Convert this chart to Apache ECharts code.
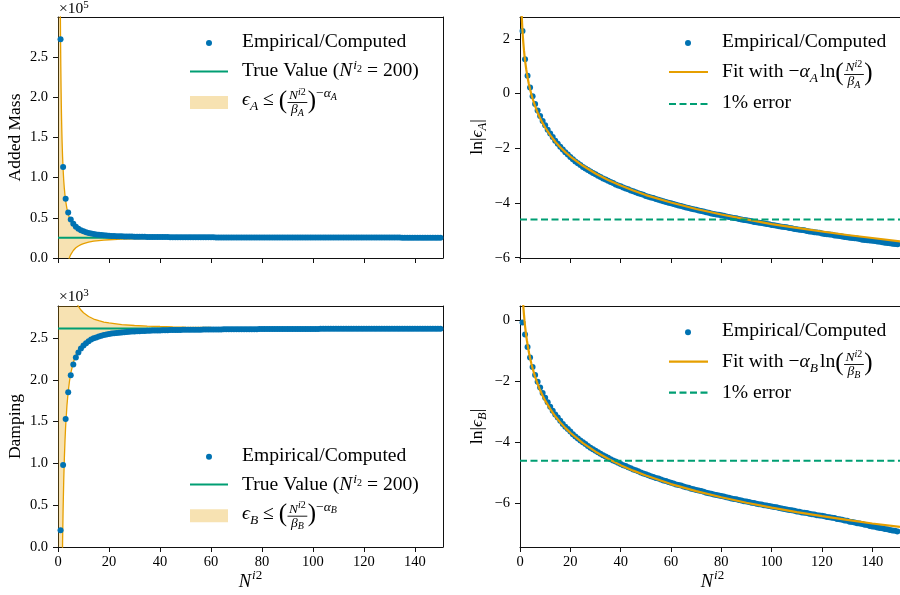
<!DOCTYPE html>
<html><head><meta charset="utf-8">
<script src="https://cdn.jsdelivr.net/npm/echarts@6.0.0/dist/echarts.min.js"></script>
<style>html,body{margin:0;padding:0;background:#fff;}#chart{width:900px;height:595px;}</style>
</head><body><div id="chart"></div>
<script>
// ---------- data ----------
const Niter = [
 1,2,3,4,5,6,7,8,9,10, 11,12,13,14,15,16,17,18,19,20, 21,22,23,24,25,26,27,28,29,30,
 31,32,33,34,35,36,37,38,39,40, 41,42,43,44,45,46,47,48,49,50, 51,52,53,54,55,56,57,58,59,60,
 61,62,63,64,65,66,67,68,69,70, 71,72,73,74,75,76,77,78,79,80, 81,82,83,84,85,86,87,88,89,90,
 91,92,93,94,95,96,97,98,99,100, 101,102,103,104,105,106,107,108,109,110, 111,112,113,114,115,116,117,118,119,120,
 121,122,123,124,125,126,127,128,129,130, 131,132,133,134,135,136,137,138,139,140, 141,142,143,144,145,146,147,148,149,150];

const addedMass = [
 272000,113000,73480,56600,48000,42440,38760,36290,34470,33090,
 31930,31050,30340,29710,29240,28830,28480,28170,27910,27680,
 27490,27310,27170,27050,26930,26830,26750,26660,26590,26520,
 26450,26390,26330,26290,26240,26200,26160,26110,26070,26050,
 26020,25980,25960,25930,25910,25880,25860,25840,25820,25800,
 25780,25760,25750,25740,25720,25700,25690,25680,25670,25660,
 25640,25630,25620,25610,25600,25590,25590,25570,25570,25560,
 25550,25550,25540,25530,25520,25520,25510,25500,25500,25490,
 25490,25480,25480,25470,25470,25460,25460,25450,25450,25450,
 25440,25440,25430,25430,25420,25420,25420,25410,25410,25410,
 25410,25400,25400,25390,25390,25390,25380,25380,25380,25380,
 25370,25370,25370,25370,25360,25360,25360,25360,25360,25350,
 25350,25350,25350,25340,25340,25340,25340,25340,25330,25330,
 25330,25330,25330,25330,25320,25320,25320,25320,25320,25320,
 25310,25310,25310,25310,25310,25310,25310,25310,25310,25310];

const damping = [
 200,981,1530,1851,2055,2183,2268,2328,2375,2409,
 2437,2462,2481,2496,2507,2519,2528,2535,2541,2547,
 2553,2557,2561,2564,2567,2570,2573,2575,2577,2579,
 2580,2582,2584,2585,2586,2588,2589,2590,2590,2591,
 2592,2593,2594,2595,2595,2596,2596,2597,2598,2598,
 2599,2599,2600,2600,2600,2600,2601,2601,2601,2602,
 2603,2603,2603,2603,2604,2604,2604,2604,2605,2605,
 2605,2605,2606,2606,2606,2606,2606,2606,2607,2607,
 2607,2607,2607,2607,2607,2607,2608,2608,2608,2608,
 2608,2608,2608,2609,2609,2609,2609,2609,2609,2609,
 2609,2609,2610,2610,2610,2610,2610,2610,2610,2610,
 2610,2610,2610,2610,2610,2611,2611,2611,2611,2611,
 2611,2611,2611,2611,2611,2611,2611,2611,2611,2611,
 2611,2611,2611,2612,2612,2612,2612,2612,2612,2612,
 2612,2612,2612,2612,2612,2612,2612,2612,2612,2612];

const lnErrA = [
 2.29,1.26,0.65,0.22,-0.10,-0.38,-0.62,-0.82,-1.00,-1.16,
 -1.32,-1.46,-1.59,-1.72,-1.83,-1.94,-2.04,-2.14,-2.23,-2.32,
 -2.40,-2.48,-2.55,-2.61,-2.68,-2.74,-2.79,-2.85,-2.90,-2.95,
 -3.00,-3.05,-3.10,-3.14,-3.19,-3.23,-3.27,-3.32,-3.36,-3.39,
 -3.43,-3.47,-3.50,-3.54,-3.57,-3.61,-3.64,-3.67,-3.70,-3.74,
 -3.77,-3.80,-3.82,-3.85,-3.88,-3.91,-3.94,-3.96,-3.99,-4.01,
 -4.04,-4.06,-4.09,-4.11,-4.14,-4.16,-4.18,-4.21,-4.23,-4.25,
 -4.27,-4.29,-4.31,-4.34,-4.36,-4.38,-4.40,-4.42,-4.43,-4.45,
 -4.47,-4.49,-4.51,-4.53,-4.55,-4.56,-4.58,-4.60,-4.62,-4.63,
 -4.65,-4.67,-4.69,-4.70,-4.72,-4.73,-4.75,-4.77,-4.78,-4.80,
 -4.81,-4.83,-4.85,-4.87,-4.88,-4.89,-4.91,-4.92,-4.95,-4.96,
 -4.98,-4.99,-5.00,-5.02,-5.04,-5.05,-5.07,-5.08,-5.09,-5.11,
 -5.13,-5.14,-5.15,-5.16,-5.19,-5.20,-5.21,-5.22,-5.24,-5.25,
 -5.27,-5.28,-5.29,-5.30,-5.32,-5.34,-5.35,-5.36,-5.37,-5.38,
 -5.39,-5.41,-5.42,-5.43,-5.45,-5.46,-5.47,-5.49,-5.50,-5.51];

const lnErrB = [
 -0.08,-0.47,-0.88,-1.23,-1.54,-1.80,-2.02,-2.21,-2.39,-2.54,
 -2.69,-2.84,-2.97,-3.09,-3.19,-3.30,-3.40,-3.49,-3.57,-3.65,
 -3.74,-3.81,-3.88,-3.94,-4.00,-4.06,-4.12,-4.18,-4.23,-4.28,
 -4.33,-4.38,-4.43,-4.47,-4.51,-4.56,-4.60,-4.63,-4.67,-4.71,
 -4.75,-4.78,-4.82,-4.85,-4.89,-4.92,-4.95,-4.99,-5.02,-5.05,
 -5.08,-5.11,-5.14,-5.17,-5.19,-5.22,-5.25,-5.27,-5.30,-5.33,
 -5.35,-5.38,-5.40,-5.42,-5.45,-5.47,-5.49,-5.52,-5.54,-5.56,
 -5.58,-5.60,-5.62,-5.65,-5.67,-5.69,-5.71,-5.73,-5.74,-5.76,
 -5.78,-5.80,-5.82,-5.84,-5.86,-5.87,-5.89,-5.91,-5.93,-5.94,
 -5.96,-5.98,-5.99,-6.01,-6.03,-6.04,-6.06,-6.07,-6.09,-6.10,
 -6.12,-6.13,-6.15,-6.17,-6.19,-6.20,-6.22,-6.23,-6.24,-6.27,
 -6.28,-6.30,-6.31,-6.32,-6.34,-6.36,-6.37,-6.39,-6.40,-6.41,
 -6.42,-6.45,-6.46,-6.47,-6.48,-6.51,-6.52,-6.54,-6.56,-6.57,
 -6.60,-6.61,-6.63,-6.65,-6.66,-6.68,-6.70,-6.71,-6.74,-6.76,
 -6.77,-6.79,-6.81,-6.82,-6.84,-6.85,-6.87,-6.89,-6.90,-6.92];

// sample positions of the fitted curves / error bands
const curveN = [0.05,0.3,0.6,0.7,0.8,0.9,1,1.1,1.2,1.3,1.4,1.5,1.6,1.8,2,2.25,2.5,2.75,3,3.5,4,4.5,5,
 6,7,8,9,10,12,14,16,18,20,25,30,35,40,45,50,60,70,80,90,100,110,120,130,140,151];
const fitLnA = [6.86,4.12,3.06,2.83,2.62,2.44,2.28,2.13,2.00,1.88,1.77,1.66,1.56,1.38,1.22,1.04,0.88,0.73,0.60,0.36,0.16,-0.02,-0.18,
 -0.46,-0.70,-0.90,-1.08,-1.24,-1.52,-1.76,-1.96,-2.14,-2.30,-2.64,-2.92,-3.16,-3.36,-3.54,-3.71,-3.98,-4.22,-4.42,-4.60,-4.77,-4.91,-5.04,-5.17,-5.28,-5.40];
const fitLnB = [5.43,2.70,1.65,1.41,1.21,1.03,0.87,0.72,0.59,0.47,0.36,0.25,0.15,-0.03,-0.19,-0.37,-0.53,-0.67,-0.80,-1.04,-1.24,-1.42,-1.58,
 -1.86,-2.09,-2.30,-2.48,-2.64,-2.91,-3.15,-3.35,-3.53,-3.69,-4.03,-4.31,-4.54,-4.75,-4.93,-5.09,-5.37,-5.60,-5.80,-5.98,-6.14,-6.29,-6.42,-6.54,-6.66,-6.77];
const bandAlo = [-24090000,-1530000,-513100,-400200,-321300,-264300,-221200,-187800,-161200,-139700,-122000,-107300,-94800,-75000,-60100,-46000,-35430,-27220,-20690,-11040,-4340,530,4210,
 9320,12650,14970,16660,17930,19700,20860,21660,22240,22680,23410,23850,24130,24330,24470,24580,24730,24830,24900,24950,24990,25010,25040,25060,25070,25090];
const bandAhi = [24120000,1580000,563500,450600,371700,314700,271600,238200,211600,190100,172400,157700,145200,125400,110500,96400,85830,77620,71090,61440,54740,49870,46190,
 41080,37750,35430,33740,32470,30700,29540,28740,28160,27720,26990,26550,26270,26070,25930,25820,25670,25570,25500,25450,25410,25390,25360,25340,25330,25310];
const bandBlo = [-595400,-36450,-10970,-8130,-6160,-4720,-3627,-2783,-2113,-1571,-1124,-751,-437,65,442,800,1069,1278,1444,1689,1859,1983,2077,
 2208,2293,2352,2395,2428,2473,2503,2523,2539,2550,2569,2580,2587,2592,2596,2599,2603,2605,2607,2608,2609,2610,2611,2611,2612,2612];
const bandBhi = [600700,41680,16200,13360,11390,9950,8857,8013,7343,6801,6354,5981,5667,5165,4788,4430,4161,3952,3786,3541,3371,3247,3153,
 3022,2937,2878,2835,2802,2757,2727,2707,2691,2680,2661,2650,2643,2638,2634,2631,2627,2625,2623,2622,2621,2620,2619,2619,2618,2618];

const trueA = 25200, trueB = 2615, onePercentLn = -4.605;
const xRange = [0, 151];
const xTicks = [0,20,40,60,80,100,120,140];
const yTicksA = [0,50000,100000,150000,200000,250000];
const yTicksB = [0,500,1000,1500,2000,2500];
const yTicksLnA = [-6,-4,-2,0,2];
const yTicksLnB = [-6,-4,-2,0];

// ---------- styling ----------
const BLUE='#0072B2', ORANGE='#E69F00', GREEN='#009E73', FILL='rgba(230,159,0,0.3)', SPINE='#111';
const SERIF='"Liberation Serif","DejaVu Serif",serif';
const mctx=document.createElement('canvas').getContext('2d');
const fontStr=(z,it)=>(it?'italic ':'')+z+'px '+SERIF;
const tw=(s,z,it)=>{mctx.font=fontStr(z,it);return mctx.measureText(s).width;};
const T=(s,z,i,b,g)=>({s:s,z:z,i:!!i,b:b||0,g:g||0});
function rowWidth(ps){let w=0;for(const p of ps){if(p.frac){w+=Math.max(rowWidth(p.num),rowWidth(p.den))+4;}else w+=tw(p.s,p.z,p.i)+p.g;}return w;}
function layRow(x,B,ps,out){
  for(const p of ps){
    if(p.frac){
      const nw=rowWidth(p.num),dw=rowWidth(p.den),fw=Math.max(nw,dw)+4;
      layRow(x+(fw-nw)/2,B+p.nb,p.num,out);
      layRow(x+(fw-dw)/2,B+p.db,p.den,out);
      out.push({type:'line',silent:true,shape:{x1:x+0.5,y1:B+p.bar,x2:x+fw-0.5,y2:B+p.bar},style:{stroke:'#000',lineWidth:0.9}});
      x+=fw;
    }else{
      out.push({type:'text',silent:true,x:x,y:B+p.b-0.34*p.z,style:{text:p.s,font:fontStr(p.z,p.i),fill:'#000',align:'left',verticalAlign:'middle'}});
      x+=tw(p.s,p.z,p.i)+p.g;
    }
  }
  return x;
}
const M=19.6,S=13.5,SS=10;
const fracRow=(sub)=>({frac:1,num:[T('N',S,1),T('i',SS,1,-4.5),T('2',SS,0,-4.5)],den:[T('β',S,1),T(sub,SS,1,2)],nb:-7,db:7.5,bar:-4.5});
const epsRow=(sub)=>[T('ϵ',M,1),T(sub,S,1,4),T(' ≤ ',M),T('(',25,0,2.5),fracRow(sub),T(')',25,0,2.5),T('−',S,0,-9),T('α',S,1,-9),T(sub,SS,1,-6.5)];
const fitRow=(sub)=>[T('Fit with ',M),T('−',M),T('α',M,1),T(sub,S,1,4,2),T('ln',M),T('(',25,0,2.5),fracRow(sub),T(')',25,0,2.5)];
const trueRow=[T('True Value (',M),T('N',M,1,0,1),T('i',S,1,-8),T('2',SS,0,-5),T(' = 200)',M)];

const G=[];
const dot=(x,y)=>G.push({type:'circle',silent:true,shape:{cx:x,cy:y,r:3},style:{fill:BLUE}});
const hline=(x1,x2,y,c,d)=>G.push({type:'line',silent:true,shape:{x1:x1,y1:y,x2:x2,y2:y},style:{stroke:c,lineWidth:2.2,lineDash:d||null}});
const patch=(x,y,w,h)=>G.push({type:'rect',silent:true,shape:{x:x,y:y,width:w,height:h},style:{fill:FILL}});
// top-left legend
dot(209,43); layRow(242,49,[T('Empirical/Computed',M)],G);
hline(190,228,71.5,GREEN); layRow(242,78,trueRow,G);
patch(190,96,38,13); layRow(242,107,epsRow('A'),G);
// top-right legend
dot(688,43); layRow(722,49,[T('Empirical/Computed',M)],G);
hline(669,708,72,ORANGE); layRow(722,79,fitRow('A'),G);
hline(669,708,104,GREEN,[7,3.5]); layRow(722,110,[T('1% error',M)],G);
// bottom-left legend
dot(209,456.7); layRow(242,462.7,[T('Empirical/Computed',M)],G);
hline(190,228,484.5,GREEN); layRow(242,491.7,trueRow,G);
patch(190,509.2,38,13); layRow(242,520.7,epsRow('B'),G);
// bottom-right legend
dot(688,332.3); layRow(722,338,[T('Empirical/Computed',M)],G);
hline(669,708,361.7,ORANGE); layRow(722,369,fitRow('B'),G);
hline(669,708,392.7,GREEN,[7,3.5]); layRow(722,400,[T('1% error',M)],G);
// offset texts
layRow(59,14.5,[T('×10',15.5),T('5',11,0,-5.5)],G);
layRow(59,302,[T('×10',15.5),T('3',11,0,-5.5)],G);
// x titles
const xt=[T('N',18.5,1,0,1),T('i',13,1,-8),T('2',13,0,-8)];
const xtw=rowWidth(xt);
layRow(250.5-xtw/2,588,xt,G); layRow(712.5-xtw/2,588,xt,G);
// rotated y titles for the log-error panels
function yTitle(cx,cy,sub){
  const ps=[T('ln',17.5),T('|',17.5),T('ϵ',17.5,1),T(sub,12.5,1,3.5),T('|',17.5)];
  const w=rowWidth(ps); const ch=[]; layRow(-w/2,0.3*17.5,ps,ch);
  G.push({type:'group',x:cx,y:cy,rotation:Math.PI/2,children:ch});
}
yTitle(478,137,'A'); yTitle(478,426.5,'B');

// ---------- axes ----------
const grids=[{left:58,top:17,width:385,height:241},{left:520,top:17,width:385,height:241},
             {left:58,top:306,width:385,height:241},{left:520,top:306,width:385,height:241}];
const lbl={color:'#000',fontFamily:SERIF,fontSize:14.5};
const neg=v=>v<0?'\u2212'+Math.abs(v):String(v);
function xAx(g,show){return {type:'value',gridIndex:g,min:xRange[0],max:xRange[1],splitLine:{show:false},
  axisLine:{show:true,onZero:false,lineStyle:{color:SPINE,width:1}},
  axisTick:{show:true,length:5,customValues:xTicks,lineStyle:{color:SPINE,width:1}},
  axisLabel:Object.assign({show:show,customValues:xTicks,margin:8},lbl)};}
function yAx(g,min,max,ticks,fmt,name){return {type:'value',gridIndex:g,min:min,max:max,splitLine:{show:false},
  name:name||'',nameLocation:'middle',nameGap:34,nameTextStyle:{color:'#000',fontFamily:SERIF,fontSize:17.5},
  axisLine:{show:true,onZero:false,lineStyle:{color:SPINE,width:1}},
  axisTick:{show:true,length:5,customValues:ticks,lineStyle:{color:SPINE,width:1}},
  axisLabel:Object.assign({customValues:ticks,margin:10,formatter:fmt},lbl)};}
const xAxes=[xAx(0,false),xAx(1,false),xAx(2,true),xAx(3,true)];
const yAxes=[yAx(0,0,299500,yTicksA,v=>(v/1e5).toFixed(1),'Added Mass'),
             yAx(1,-6.01,2.80,yTicksLnA,neg),
             yAx(2,0,2883,yTicksB,v=>(v/1e3).toFixed(1),'Damping'),
             yAx(3,-7.43,0.46,yTicksLnB,neg)];
for(let g=0;g<4;g++){
  xAxes.push({type:'value',gridIndex:g,position:'top',min:0,max:1,splitLine:{show:false},axisTick:{show:false},axisLabel:{show:false},axisLine:{show:true,onZero:false,lineStyle:{color:SPINE,width:1}}});
  yAxes.push({type:'value',gridIndex:g,position:'right',min:0,max:1,splitLine:{show:false},axisTick:{show:false},axisLabel:{show:false},axisLine:{show:true,onZero:false,lineStyle:{color:SPINE,width:1}}});
}

// ---------- series ----------
const pts=(xs,ys)=>xs.map((x,i)=>[x,ys[i]]);
function band(g,lo,hi){
  return [{type:'custom',xAxisIndex:g,yAxisIndex:g,silent:true,z:1,
    data:curveN.map((n,i)=>[n,lo[i],hi[i]]),encode:{x:0,y:[1,2]},
    renderItem:function(params,api){
      if(params.dataIndexInside!==0) return null;
      const up=curveN.map((n,i)=>api.coord([n,hi[i]]));
      const dn=curveN.map((n,i)=>api.coord([n,lo[i]])).reverse();
      const cs=params.coordSys;
      return {type:'polygon',shape:{points:up.concat(dn)},style:{fill:FILL},
        clipPath:{type:'rect',shape:{x:cs.x,y:cs.y,width:cs.width,height:cs.height}}};
    }},
   {type:'line',xAxisIndex:g,yAxisIndex:g,data:pts(curveN,lo),symbol:'none',silent:true,z:2,lineStyle:{color:ORANGE,width:1.3}},
   {type:'line',xAxisIndex:g,yAxisIndex:g,data:pts(curveN,hi),symbol:'none',silent:true,z:2,lineStyle:{color:ORANGE,width:1.3}}];
}
const hLine=(g,y,color,type)=>({type:'line',xAxisIndex:g,yAxisIndex:g,data:[[xRange[0],y],[xRange[1],y]],symbol:'none',silent:true,z:4,
  lineStyle:{color:color,width:2,type:type||'solid'}});
const scat=(g,ys)=>({type:'scatter',xAxisIndex:g,yAxisIndex:g,data:pts(Niter,ys),symbol:'circle',symbolSize:6,silent:true,z:3,itemStyle:{color:BLUE,opacity:1}});
const fit=(g,ys)=>({type:'line',xAxisIndex:g,yAxisIndex:g,data:pts(curveN,ys),symbol:'none',silent:true,z:4,lineStyle:{color:ORANGE,width:2.2}});

const series=[].concat(
  band(0,bandAlo,bandAhi),[Object.assign(hLine(0,trueA,GREEN),{z:2}),scat(0,addedMass)],
  [scat(1,lnErrA),fit(1,fitLnA),Object.assign(hLine(1,onePercentLn,GREEN,[7,3.5]),{z:5})],
  band(2,bandBlo,bandBhi),[Object.assign(hLine(2,trueB,GREEN),{z:2}),scat(2,damping)],
  [scat(3,lnErrB),fit(3,fitLnB),Object.assign(hLine(3,onePercentLn,GREEN,[7,3.5]),{z:5})]
);

const chart=echarts.init(document.getElementById('chart'),null,{renderer:'canvas'});
chart.setOption({animation:false,backgroundColor:'#fff',grid:grids,xAxis:xAxes,yAxis:yAxes,series:series,graphic:{elements:G}});
</script></body></html>
